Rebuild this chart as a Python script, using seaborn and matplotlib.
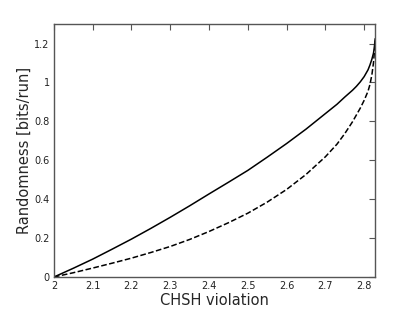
import matplotlib
matplotlib.use("Agg")
import matplotlib.pyplot as plt
import seaborn as sns
import pandas as pd

# Data
chsh = [2.0, 2.05, 2.1, 2.15, 2.2, 2.25, 2.3, 2.35, 2.4, 2.45, 2.5, 2.55, 2.6, 2.65, 2.7,
        2.73, 2.75, 2.77, 2.78, 2.79, 2.8, 2.81, 2.815, 2.82, 2.824, 2.826, 2.8284]
solid = [0.0, 0.045, 0.092, 0.143, 0.195, 0.250, 0.307, 0.366, 0.427, 0.487, 0.548, 0.616, 0.686, 0.760, 0.840,
         0.888, 0.925, 0.960, 0.980, 1.003, 1.030, 1.065, 1.090, 1.120, 1.150, 1.175, 1.225]
dashed = [0.0, 0.022, 0.046, 0.071, 0.097, 0.126, 0.157, 0.193, 0.234, 0.279, 0.328, 0.385, 0.450, 0.527, 0.618,
          0.683, 0.737, 0.798, 0.833, 0.868, 0.908, 0.955, 0.990, 1.040, 1.100, 1.145, 1.215]
xticks = [2.0, 2.1, 2.2, 2.3, 2.4, 2.5, 2.6, 2.7, 2.8]
xticklabels = ["2", "2.1", "2.2", "2.3", "2.4", "2.5", "2.6", "2.7", "2.8"]
yticks = [0.0, 0.2, 0.4, 0.6, 0.8, 1.0, 1.2]
yticklabels = ["0", "0.2", "0.4", "0.6", "0.8", "1", "1.2"]

df = pd.DataFrame({"S": chsh, "solid": solid, "dashed": dashed})

sns.set_theme(style="white")
plt.rcParams["font.family"] = ["DejaVu Sans"]

fig = plt.figure(figsize=(4.15, 3.13), dpi=100)
ax = fig.add_axes([0.130, 0.115, 0.774, 0.808])

sns.lineplot(data=df, x="S", y="solid", ax=ax, color="black", linewidth=1.1)
sns.lineplot(data=df, x="S", y="dashed", ax=ax, color="black", linewidth=1.1, linestyle="--")

ax.set_xlim(2.0, 2.8284)
ax.set_ylim(0, 1.3)
ax.set_xticks(xticks)
ax.set_xticklabels(xticklabels)
ax.set_yticks(yticks)
ax.set_yticklabels(yticklabels)
ax.tick_params(direction="in", top=True, right=True, length=4, width=0.8,
               color="#555555", labelsize=7, labelcolor="#222222", pad=3)
for sp in ax.spines.values():
    sp.set_color("#555555")
    sp.set_linewidth(1.0)
ax.set_xlabel("CHSH violation", fontsize=10.5, labelpad=1)
ax.set_ylabel("Randomness [bits/run]", fontsize=10.5, labelpad=2)

fig.savefig("out.png", dpi=100)
